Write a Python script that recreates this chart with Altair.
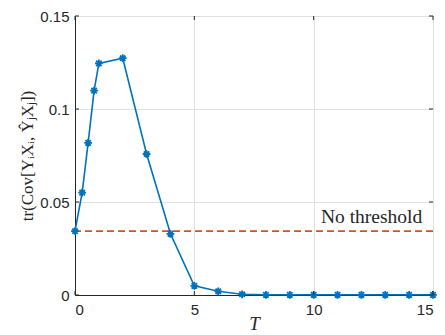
import altair as alt
import pandas as pd

T = [0, 0.3, 0.55, 0.8, 1, 2, 3, 4, 5, 6, 7, 8, 9, 10, 11, 12, 13, 14, 15]
cov = [0.0343, 0.0550, 0.0818, 0.1099, 0.1245, 0.1273, 0.0758, 0.0329, 0.0049,
       0.0020, 0.0004, 0.0001, 0.0001, 0.0001, 0.0001, 0.0001, 0.0001, 0.0001, 0.0001]
threshold = 0.0343
label_text = "No threshold"
label_T = 14.55
x_ticks = [0, 5, 10, 15]
y_ticks = [0, 0.05, 0.1, 0.15]

W, H = 358, 279
AX = "#262626"
BLUE = "#0072BD"
ORANGE = "#D95319"

df = pd.DataFrame({"T": T, "cov": cov})
xs = alt.Scale(domain=[0, 15], nice=False)
ys = alt.Scale(domain=[0, 0.15], nice=False)

xaxis = alt.Axis(values=x_ticks, format="d", title="T", grid=True, ticks=False,
                 labelFont="Liberation Sans", labelFontSize=15, labelColor=AX,
                 labelPadding=7, domainColor=AX, gridColor="#e0e0e0",
                 titleFont="Liberation Serif", titleFontStyle="italic", titleFontWeight="normal",
                 titleFontSize=19, titleColor=AX, titleX=W / 2, titleY=28, titleBaseline="middle")
yaxis = alt.Axis(values=y_ticks, format=".2~f", title="tr(Cov[YᵢXᵢ, ŶⱼXⱼ])", grid=True, ticks=False,
                 labelFont="Liberation Sans", labelFontSize=15, labelColor=AX,
                 labelPadding=6, domainColor=AX, gridColor="#e0e0e0",
                 titleFont="Liberation Serif", titleFontWeight="normal",
                 titleFontSize=17, titleColor=AX, titleX=-48, titleY=H / 2,
                 titleAngle=-90, titleBaseline="middle", titleAlign="center")

base = alt.Chart(df)

line = base.mark_line(color=BLUE, strokeWidth=1.6).encode(
    x=alt.X("T:Q", scale=xs, axis=xaxis),
    y=alt.Y("cov:Q", scale=ys, axis=yaxis),
)

star = "M-1,0L1,0M0,-1L0,1M-0.7,-0.7L0.7,0.7M-0.7,0.7L0.7,-0.7"
pts = base.mark_point(shape=star, filled=False, color=BLUE, strokeWidth=1.8, size=60, opacity=1).encode(
    x=alt.X("T:Q", scale=xs),
    y=alt.Y("cov:Q", scale=ys),
)

thr = alt.Chart(pd.DataFrame({"y": [threshold]})).mark_rule(
    color=ORANGE, strokeWidth=1.8, strokeDash=[7, 4]
).encode(y=alt.Y("y:Q", scale=ys))

txt = alt.Chart(pd.DataFrame({"x": [label_T], "y": [threshold], "t": [label_text]})).mark_text(
    align="right", baseline="alphabetic", dy=-8, font="Liberation Serif", fontSize=19.5, color=AX
).encode(x=alt.X("x:Q", scale=xs), y=alt.Y("y:Q", scale=ys), text="t:N")

xt = pd.DataFrame({"v": x_ticks})
yt = pd.DataFrame({"v": y_ticks})
tick_style = dict(color=AX, strokeWidth=1)
xb = alt.Chart(xt).mark_rule(**tick_style).encode(x=alt.X("v:Q", scale=xs), y=alt.value(H), y2=alt.value(H - 4))
xtop = alt.Chart(xt).mark_rule(**tick_style).encode(x=alt.X("v:Q", scale=xs), y=alt.value(0), y2=alt.value(4))
yl = alt.Chart(yt).mark_rule(**tick_style).encode(y=alt.Y("v:Q", scale=ys), x=alt.value(0), x2=alt.value(4))
yr = alt.Chart(yt).mark_rule(**tick_style).encode(y=alt.Y("v:Q", scale=ys), x=alt.value(W - 4), x2=alt.value(W))

chart = alt.layer(thr, line, pts, txt, xb, xtop, yl, yr).properties(
    width=W, height=H,
    autosize=alt.AutoSizeParams(type="none"),
    padding={"left": 67, "top": 8, "right": 4, "bottom": 38},
).configure_view(stroke=AX, strokeWidth=1).configure(background="white")

chart.save("out.html", embed_options={"renderer": "svg", "actions": False})
